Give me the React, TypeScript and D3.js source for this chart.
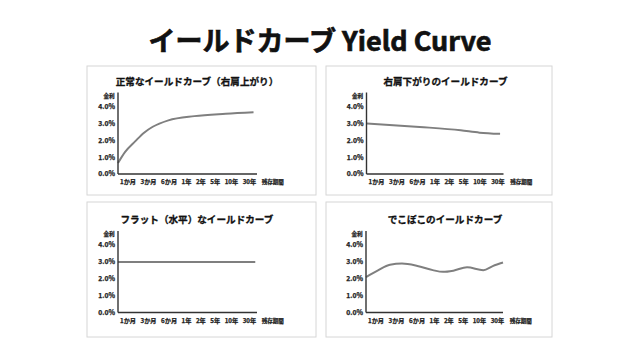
import React from "react";
import * as d3 from "d3";

const mainTitle = "イールドカーブ Yield Curve";
const categories = ["1か月", "3か月", "6か月", "1年", "2年", "5年", "10年", "30年"];
const xAxisTitle = "残存期間";
const yAxisTitle = "金利";
const yTicks = [0, 1, 2, 3, 4];

const panelTitles = [
  "正常なイールドカーブ（右肩上がり）",
  "右肩下がりのイールドカーブ",
  "フラット（水平）なイールドカーブ",
  "でこぼこのイールドカーブ",
];

// maturity position (in category-index units) and yield (%)
const normalT = [0, 0.4, 1.0, 1.5, 2.0, 2.9, 4.4, 6.2, 7.8];
const normalY = [0.65, 1.3, 1.95, 2.45, 2.8, 3.18, 3.43, 3.57, 3.66];
const invertedT = [0, 3.1, 5.5, 6.6, 7.8];
const invertedY = [3.0, 2.79, 2.59, 2.45, 2.38];
const flatT = [0, 7.9];
const flatY = [3.0, 3.0];
const bumpyT = [0, 0.7, 1.4, 2.1, 3.0, 3.9, 4.5, 5.1, 5.9, 6.85, 7.4, 8.0];
const bumpyY = [2.1, 2.5, 2.83, 2.9, 2.76, 2.51, 2.41, 2.48, 2.68, 2.51, 2.75, 2.96];

const seriesT = [normalT, invertedT, flatT, bumpyT];
const seriesY = [normalY, invertedY, flatY, bumpyY];

// layout only
const panels = [
  { bx: 87, by: 66, bw: 229, bh: 129, ax: 118, ay: 174, aw: 139 },
  { bx: 326, by: 66, bw: 226, bh: 129, ax: 366.5, ay: 174, aw: 137 },
  { bx: 87, by: 202, bw: 229, bh: 135, ax: 118, ay: 312.5, aw: 139 },
  { bx: 326, by: 202, bw: 226, bh: 135, ax: 366, ay: 312.5, aw: 137 },
];

const FONT = "'Noto Sans CJK JP', 'Noto Sans', sans-serif";

function Panel({ i }: { i: number }) {
  const p = panels[i];
  const x = d3.scaleLinear().domain([0, 8]).range([p.ax, p.ax + p.aw]);
  const y = d3.scaleLinear().domain([0, 4]).range([p.ay, p.ay - 67.5]);
  const data = seriesT[i].map((t, k) => [t, seriesY[i][k]] as [number, number]);
  const line = d3
    .line<[number, number]>()
    .x((d) => x(d[0]))
    .y((d) => y(d[1]))
    .curve(d3.curveMonotoneX);
  const axisTop = y(4) - 14;
  const heavy = { stroke: "#111", strokeWidth: 0.25, paintOrder: "stroke" as const };
  return (
    <g>
      <rect x={p.bx} y={p.by} width={p.bw} height={p.bh} fill="#fff" stroke="#d6d6d6" strokeWidth={1} />
      <text
        x={p.ax + 79}
        y={y(4) - 22}
        textAnchor="middle"
        fontSize={9.6}
        fontWeight={700}
        fill="#111"
        stroke="#111"
        strokeWidth={0.3}
      >
        {panelTitles[i]}
      </text>
      <text x={p.ax - 9} y={y(4) - 9} textAnchor="middle" fontSize={5.6} fontWeight={700} fill="#222" {...heavy}>
        {yAxisTitle}
      </text>
      {yTicks.map((v) => (
        <text
          key={v}
          x={p.ax - 3}
          y={y(v)}
          dy="0.35em"
          textAnchor="end"
          fontSize={6.8}
          fontWeight={700}
          fill="#222"
          {...heavy}
        >
          {v.toFixed(1) + "%"}
        </text>
      ))}
      <path d={line(data) || ""} fill="none" stroke="#7f7f7f" strokeWidth={2} />
      <line x1={p.ax} y1={axisTop} x2={p.ax} y2={p.ay} stroke="#333" strokeWidth={1.4} />
      <line x1={p.ax} y1={p.ay} x2={p.ax + p.aw} y2={p.ay} stroke="#333" strokeWidth={1.4} />
      <text x={p.ax + 2} y={p.ay + 10} fontSize={6.2} fontWeight={700} fill="#222" {...heavy}>
        {categories.map((c, k) => (
          <tspan key={c} dx={k === 0 ? 0 : 4.5}>
            {c}
          </tspan>
        ))}
        <tspan dx={5.5} fontSize={5.5}>
          {xAxisTitle}
        </tspan>
      </text>
    </g>
  );
}

export default function App() {
  return (
    <svg
      width={640}
      height={360}
      style={{ position: "absolute", left: 0, top: 0, fontFamily: FONT }}
      xmlns="http://www.w3.org/2000/svg"
    >
      <rect x={0} y={0} width={640} height={360} fill="#fff" />
      <text
        x={320}
        y={50.5}
        textAnchor="middle"
        fontSize={27}
        fontWeight={700}
        fill="#111"
        stroke="#111"
        strokeWidth={0.7}
      >
        {mainTitle}
      </text>
      {panels.map((_, i) => (
        <Panel key={i} i={i} />
      ))}
    </svg>
  );
}
